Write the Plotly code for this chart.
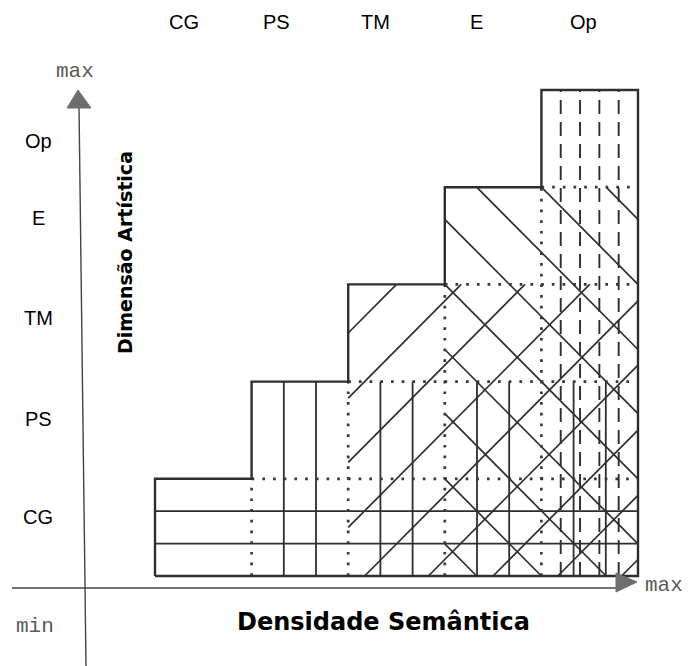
import plotly.graph_objects as go

# ---------------- data ----------------
categories = ["CG", "PS", "TM", "E", "Op"]
levels = [1, 2, 3, 4, 5]                      # artistic-dimension level reached by each category
cg_rows = [1 / 3, 2 / 3]                       # CG horizontal hatch (y)
ps_offsets = [1 / 3, 2 / 3]                    # PS vertical hatch offsets inside each column
tm_intercepts = [0.5, -0.17, -0.83, -1.5, -2.17, -2.83, -3.5, -4.17, -4.83]   # TM "/" hatch: y = x + b
e_intercepts = [3.33, 4.0, 4.67, 5.33, 6.0, 6.67, 7.33, 8.0, 8.67]          # E "\" hatch: x + y = c
op_cols = [4.2, 4.4, 4.6, 4.8]                 # Op dashed verticals (x)
top_label_x = [0.30, 1.26, 2.28, 3.33, 4.44]
left_label_y = [0.61, 1.62, 2.65, 3.68, 4.48]

# ---------------- geometry helpers (pixel -> data) ----------------
W, H = 691, 666
X0, UX = 155, 96.6
Y0, UY = 576, 97.2


def X(px):
    return (px - X0) / UX


def Y(py):
    return (Y0 - py) / UY


n = len(categories)
INK = "#2e2e2e"
fig = go.Figure()


def add_segments(segs, width, dash="solid", color=INK):
    xs, ys = [], []
    for (x1, y1, x2, y2) in segs:
        xs += [x1, x2, None]
        ys += [y1, y2, None]
    fig.add_trace(go.Scatter(x=xs, y=ys, mode="lines",
                             line=dict(color=color, width=width, dash=dash),
                             hoverinfo="skip", showlegend=False))


# CG horizontals
add_segments([(0, r, n, r) for r in cg_rows], 1.8)
# PS verticals
add_segments([(k + o, 0, k + o, levels[1]) for k in range(1, n) for o in ps_offsets], 1.8)
# TM "/" diagonals
segs = []
for b in tm_intercepts:
    xa, xb = max(2, -b), min(n, levels[2] - b)
    if xb > xa:
        segs.append((xa, xa + b, xb, xb + b))
add_segments(segs, 1.7)
# E "\" diagonals
segs = []
for c in e_intercepts:
    xa, xb = max(3, c - levels[3]), min(n, c)
    if xb > xa:
        segs.append((xa, c - xa, xb, c - xb))
add_segments(segs, 1.7)
# Op dashed verticals
add_segments([(x, 0, x, levels[4]) for x in op_cols], 1.9, dash="14px,8px")

# dotted level grid
dots = []
for i in range(1, n):
    dots.append((i, 0, i, levels[i - 1]))
    dots.append((i, levels[i - 1], n, levels[i - 1]))
add_segments(dots, 2.7, dash="2.7px,8px", color="#383838")

# staircase outline
ox, oy = [0, 0], [0, levels[0]]
for i in range(n):
    ox += [i, i + 1]
    oy += [levels[i], levels[i]]
ox += [n, 0]
oy += [0, 0]
fig.add_trace(go.Scatter(x=ox, y=oy, mode="lines",
                         line=dict(color=INK, width=2.4), hoverinfo="skip", showlegend=False))

# ---------------- axes with arrows ----------------
AX = "#444444"
fig.add_shape(type="line", x0=X(12), y0=Y(588), x1=X(622), y1=Y(588),
              line=dict(color=AX, width=1.6))
fig.add_shape(type="line", x0=X(86), y0=Y(666), x1=X(79), y1=Y(106),
              line=dict(color=AX, width=1.4))
ARR = "#6e6e6e"
fig.add_shape(type="path",
              path=f"M {X(637)},{Y(582)} L {X(616)},{Y(573)} L {X(616)},{Y(592)} Z",
              fillcolor=ARR, line=dict(color=ARR, width=1))
fig.add_shape(type="path",
              path=f"M {X(78)},{Y(90)} L {X(67)},{Y(108)} L {X(91)},{Y(108)} Z",
              fillcolor=ARR, line=dict(color=ARR, width=1))

MONO = dict(family="Liberation Mono, DejaVu Sans Mono, monospace", size=21, color="#5a5a5a")
ann = [
    dict(x=X(75), y=Y(71), text="max", font=MONO),
    dict(x=X(664), y=Y(585), text="max", font=MONO),
    dict(x=X(35), y=Y(626), text="min", font=MONO),
    dict(x=X(383), y=Y(622), text="<b>Densidade Semântica</b>",
         font=dict(family="DejaVu Sans, sans-serif", size=24, color="black")),
    dict(x=X(125), y=Y(253), text="<b>Dimensão Artística</b>", textangle=-90,
         font=dict(family="DejaVu Sans, sans-serif", size=19, color="black")),
]
LAB = dict(family="Liberation Sans, Arial, sans-serif", size=20, color="black")
for cat, xv in zip(categories, top_label_x):
    ann.append(dict(x=xv, y=Y(22), text=cat, font=LAB))
for cat, yv in zip(categories, left_label_y):
    ann.append(dict(x=X(38), y=yv, text=cat, font=LAB))
for a in ann:
    a.update(xref="x", yref="y", showarrow=False, xanchor="center", yanchor="middle")
    fig.add_annotation(**a)

fig.update_layout(
    width=W, height=H, autosize=False,
    margin=dict(l=0, r=0, t=0, b=0),
    paper_bgcolor="white", plot_bgcolor="white",
    showlegend=False,
    xaxis=dict(range=[X(0), X(W)], visible=False, fixedrange=True),
    yaxis=dict(range=[Y(H), Y(0)], visible=False, fixedrange=True),
)

fig.write_html("out.html", config={"displayModeBar": False},
               post_script="document.body.style.margin='0';document.body.style.overflow='hidden';")
